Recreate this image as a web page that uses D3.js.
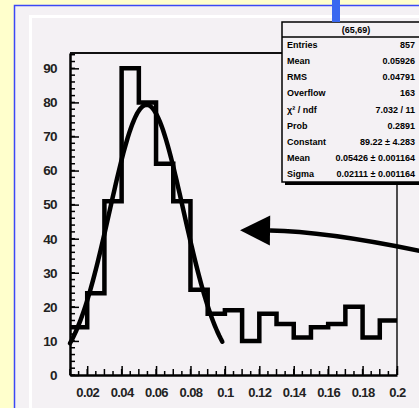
<!DOCTYPE html>
<html>
<head>
<meta charset="utf-8">
<script src="https://cdn.jsdelivr.net/npm/d3@7"></script>
<style>
  body { margin: 0; background: #ffffcc; }
  svg { display: block; }
  .tick text { font-family: "Liberation Sans", Arial, sans-serif; }
</style>
</head>
<body>
<svg id="chart" width="419" height="408"></svg>
<script>
// histogram: 19 bins of width 0.01 starting at 0.01
var binStart = 0.01;
var binWidth = 0.01;
var counts = [14, 24, 51, 90, 80, 62, 51, 25, 18, 19, 10, 18, 15, 11, 14, 15, 20, 11, 16];

// gaussian fit
var fitConstant = 79.3, fitMean = 0.0545, fitSigma = 0.0215;
var fitRange = [0.01, 0.0985];

var xTicks = [0.02, 0.04, 0.06, 0.08, 0.1, 0.12, 0.14, 0.16, 0.18, 0.2];
var xTickLabels = ["0.02", "0.04", "0.06", "0.08", "0.1", "0.12", "0.14", "0.16", "0.18", "0.2"];
var yTicks = [0, 10, 20, 30, 40, 50, 60, 70, 80, 90];

// stats box
var statTitle = "(65,69)";
var statNames = ["Entries", "Mean", "RMS", "Overflow", "\u03c7\u00b2 / ndf", "Prob", "Constant", "Mean", "Sigma"];
var statValues = ["857", "0.05926", "0.04791", "163", "7.032 / 11", "0.2891", "89.22 \u00b1 4.283", "0.05426 \u00b1 0.001164", "0.02111 \u00b1 0.001164"];

// arrow annotation, in data coordinates (tip, control, tail)
var arrowPts = [[0.1088, 42.5], [0.1576, 42.2], [0.2134, 36.4]];

var svg = d3.select("#chart"),
    width = +svg.attr("width"),
    height = +svg.attr("height");

var frame = {left: 70, right: 397, top: 53, bottom: 375};

var x = d3.scaleLinear()
    .domain([0.01, 0.2])
    .range([frame.left, frame.right]);
var y = d3.scaleLinear()
    .domain([0, 94.5])
    .range([frame.bottom, frame.top]);

// pad
svg.append("rect").attr("width", width).attr("height", height).attr("fill", "#ffffcc");
svg.append("rect")
    .attr("x", 14.5).attr("y", 5.5).attr("width", 500).attr("height", 500)
    .attr("fill", "#f4f1f4").attr("stroke", "#3b48f5").attr("stroke-width", 1.5);
svg.append("rect")
    .attr("x", 30.5).attr("y", 16.5).attr("width", 500).attr("height", 500)
    .attr("fill", "none").attr("stroke", "#ffffff").attr("stroke-width", 3);

// frame top / right
svg.append("line")
    .attr("x1", frame.left).attr("x2", frame.right)
    .attr("y1", frame.top).attr("y2", frame.top)
    .attr("stroke", "#111").attr("stroke-width", 2);
svg.append("line")
    .attr("x1", frame.right).attr("x2", frame.right)
    .attr("y1", frame.top).attr("y2", frame.bottom)
    .attr("stroke", "#222").attr("stroke-width", 1.6);

// histogram steps
var steps = [];
counts.forEach(function(c, i) {
  var x0 = binStart + i * binWidth;
  steps.push([x0, c]);
  steps.push([x0 + binWidth, c]);
});
var line = d3.line()
    .x(function(d) { return x(d[0]); })
    .y(function(d) { return y(d[1]); });
svg.append("path")
    .datum(steps)
    .attr("d", line)
    .attr("fill", "none")
    .attr("stroke", "#000")
    .attr("stroke-width", 4.5)
    .attr("stroke-linejoin", "miter");

// fit curve
var fitPts = d3.range(0, 101).map(function(k) {
  var xv = fitRange[0] + (fitRange[1] - fitRange[0]) * k / 100;
  var z = (xv - fitMean) / fitSigma;
  return [xv, fitConstant * Math.exp(-0.5 * z * z)];
});
svg.append("path")
    .datum(fitPts)
    .attr("d", line)
    .attr("fill", "none")
    .attr("stroke", "#000")
    .attr("stroke-width", 4.5)
    .attr("stroke-linecap", "round");

// axes (ticks pointing into the frame)
var xMinor = d3.range(0.01, 0.2001, 0.005);
svg.append("g")
    .attr("transform", "translate(0," + frame.bottom + ")")
    .selectAll("line.minor")
    .data(xMinor)
    .enter().append("line")
      .attr("x1", function(d) { return x(d); })
      .attr("x2", function(d) { return x(d); })
      .attr("y1", 0)
      .attr("y2", function(d, i) { return i % 2 == 0 ? -6 : -4; })
      .attr("stroke", "#000").attr("stroke-width", 1.5);

var xAxis = d3.axisBottom(x)
    .tickValues(xTicks)
    .tickFormat(function(d, i) { return xTickLabels[i]; })
    .tickSizeInner(-9)
    .tickSizeOuter(0)
    .tickPadding(13);
var gx = svg.append("g")
    .attr("transform", "translate(0," + frame.bottom + ")")
    .call(xAxis);
gx.select(".domain").attr("stroke", "#000").attr("stroke-width", 2.5);
gx.selectAll(".tick line").attr("stroke", "#000").attr("stroke-width", 1.5);
gx.selectAll(".tick text")
    .attr("font-size", 13).attr("font-weight", "bold")
    .attr("fill", "#222").attr("letter-spacing", -0.6);

var yMinor = d3.range(0, 95, 2);
svg.append("g")
    .attr("transform", "translate(" + frame.left + ",0)")
    .selectAll("line.minor")
    .data(yMinor)
    .enter().append("line")
      .attr("y1", function(d) { return y(d); })
      .attr("y2", function(d) { return y(d); })
      .attr("x1", 0)
      .attr("x2", 5)
      .attr("stroke", "#000").attr("stroke-width", 1.5);

var yAxis = d3.axisLeft(y)
    .tickValues(yTicks)
    .tickFormat(d3.format("d"))
    .tickSizeInner(-9)
    .tickSizeOuter(0)
    .tickPadding(13);
var gy = svg.append("g")
    .attr("transform", "translate(" + frame.left + ",0)")
    .call(yAxis);
gy.select(".domain").attr("stroke", "#000").attr("stroke-width", 2.5);
gy.selectAll(".tick line").attr("stroke", "#000").attr("stroke-width", 1.5);
gy.selectAll(".tick text")
    .attr("font-size", 13.5).attr("font-weight", "bold")
    .attr("fill", "#222").attr("letter-spacing", -0.6);

// stats box (runs past the right edge of the canvas, like the original)
var box = {x: 282, y: 22, w: 140, h: 160, title: 15};
var gs = svg.append("g").attr("font-family", "Liberation Sans, Arial, sans-serif");
gs.append("rect")
    .attr("x", box.x + 3).attr("y", box.y + 3).attr("width", box.w).attr("height", box.h)
    .attr("fill", "#000");
gs.append("rect")
    .attr("x", box.x).attr("y", box.y).attr("width", box.w).attr("height", box.h)
    .attr("fill", "#f4f1f4").attr("stroke", "#000").attr("stroke-width", 1.5);
gs.append("line")
    .attr("x1", box.x).attr("x2", box.x + box.w)
    .attr("y1", box.y + box.title).attr("y2", box.y + box.title)
    .attr("stroke", "#000").attr("stroke-width", 1.5);
gs.append("text")
    .attr("x", 356).attr("y", box.y + 11)
    .attr("text-anchor", "middle")
    .attr("font-size", 9).attr("font-weight", "bold")
    .text(statTitle);
var rowH = (box.h - box.title) / statNames.length;
gs.selectAll("text.name")
    .data(statNames)
    .enter().append("text")
      .attr("x", box.x + 5)
      .attr("y", function(d, i) { return box.y + box.title + rowH * (i + 0.5) + 3; })
      .attr("font-size", 9).attr("font-weight", "bold")
      .text(function(d) { return d; });
gs.selectAll("text.val")
    .data(statValues)
    .enter().append("text")
      .attr("x", width - 4)
      .attr("y", function(d, i) { return box.y + box.title + rowH * (i + 0.5) + 3; })
      .attr("text-anchor", "end")
      .attr("font-size", 9).attr("font-weight", "bold")
      .text(function(d) { return d; });

// blue marker at top
svg.append("rect")
    .attr("x", 332).attr("y", 0).attr("width", 8).attr("height", 22)
    .attr("fill", "#3a68f0");

// arrow
var tip = [x(arrowPts[0][0]), y(arrowPts[0][1])];
var ctl = [x(arrowPts[1][0]), y(arrowPts[1][1])];
var tail = [x(arrowPts[2][0]), y(arrowPts[2][1])];
var headLen = 30, headHalf = 15;
var ang = Math.atan2(ctl[1] - tip[1], ctl[0] - tip[0]);
var base = [tip[0] + headLen * Math.cos(ang), tip[1] + headLen * Math.sin(ang)];
var p = d3.path();
p.moveTo(base[0], base[1]);
p.quadraticCurveTo(ctl[0], ctl[1], tail[0], tail[1]);
svg.append("path")
    .attr("d", p.toString())
    .attr("fill", "none").attr("stroke", "#000").attr("stroke-width", 4.5);
svg.append("path")
    .attr("d", "M" + tip[0] + "," + tip[1] +
      "L" + (base[0] - headHalf * Math.sin(ang)) + "," + (base[1] + headHalf * Math.cos(ang)) +
      "L" + (base[0] + headHalf * Math.sin(ang)) + "," + (base[1] - headHalf * Math.cos(ang)) + "Z")
    .attr("fill", "#000");
</script>
</body>
</html>
